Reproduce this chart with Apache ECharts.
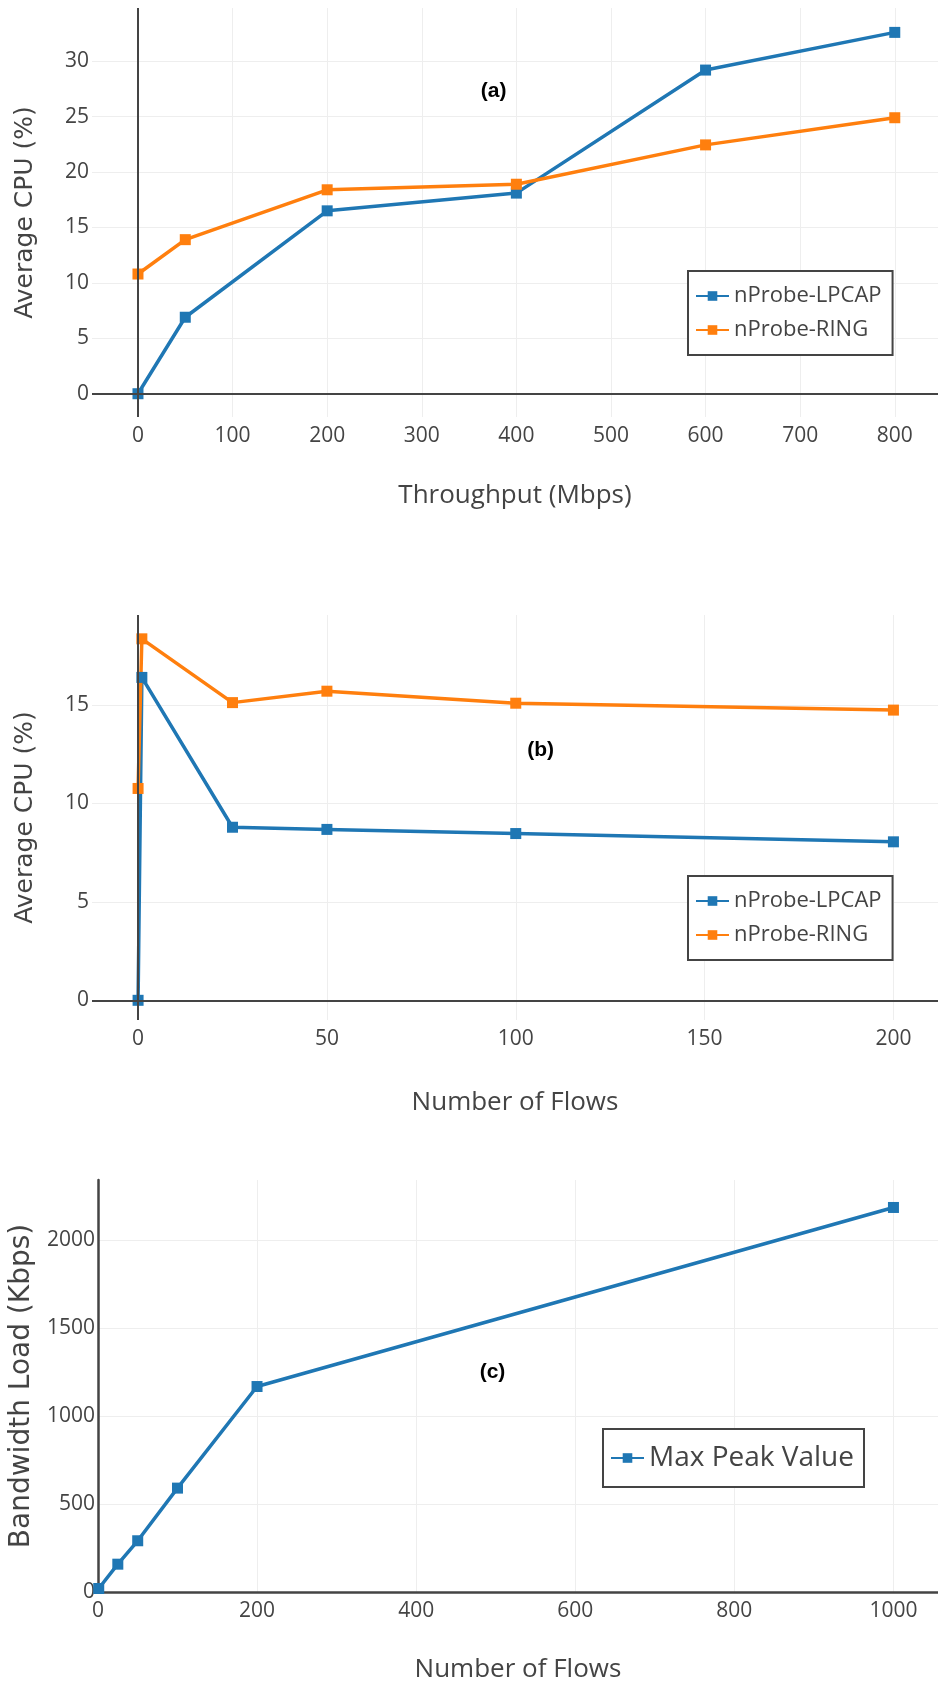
<!DOCTYPE html>
<html>
<head>
<meta charset="utf-8">
<title>nProbe CPU and bandwidth</title>
<script src="https://cdn.jsdelivr.net/npm/echarts@6/dist/echarts.min.js"></script>
<style>
  html, body { margin: 0; padding: 0; background: #fff; }
  #chart { width: 938px; height: 1686px; }
</style>
</head>
<body>
<div id="chart"></div>
<script>
// (a) cpu vs throughput
var throughput = [0, 50, 200, 400, 600, 800];
var cpuLpcapA = [0, 6.9, 16.5, 18.1, 29.2, 32.6];
var cpuRingA = [10.8, 13.9, 18.4, 18.9, 22.45, 24.9];

// (b) cpu vs number of flows
var flowsB = [0, 1, 25, 50, 100, 200];
var cpuLpcapB = [0, 16.4, 8.79, 8.68, 8.47, 8.05];
var cpuRingB = [10.76, 18.36, 15.12, 15.7, 15.09, 14.74];

// (c) bandwidth vs number of flows
var flowsC = [1, 25, 50, 100, 200, 1000];
var peakC = [20, 158, 291, 590, 1167, 2184];

var BLUE = '#1f77b4';
var ORANGE = '#ff7f0e';
var TXT = '#444';

function pairs(xs, ys) {
  return xs.map(function (x, i) { return [x, ys[i]]; });
}

// only show labels on multiples of the step (extent ticks get hidden)
function stepLabel(step) {
  return function (v) {
    var r = Math.abs(v / step - Math.round(v / step));
    return r < 1e-6 ? String(Math.round(v)) : '';
  };
}

// min/maxInterval pin the step but keep ticks on its multiples
function xAxisOf(idx, min, max, step, name, gap, withLine) {
  return {
    type: 'value', gridIndex: idx, min: min, max: max,
    minInterval: step, maxInterval: step,
    name: name, nameLocation: 'middle', nameGap: gap,
    nameTextStyle: { color: TXT, fontSize: 26, fontFamily: 'Open Sans' },
    axisLine: { show: withLine, onZero: false, lineStyle: { color: TXT, width: 2.5 } },
    axisTick: { show: false },
    axisLabel: { color: TXT, fontSize: 21, fontFamily: 'Open Sans', margin: 9,
      showMinLabel: withLine, showMaxLabel: false, formatter: stepLabel(step) },
    splitLine: { show: true, showMinLine: false, showMaxLine: false,
      lineStyle: { color: '#eeeeee', width: 1 } }
  };
}

function yAxisOf(idx, min, max, step, name, gap, size, withLine) {
  return {
    type: 'value', gridIndex: idx, min: min, max: max,
    minInterval: step, maxInterval: step,
    name: name, nameLocation: 'middle', nameGap: gap,
    nameTextStyle: { color: TXT, fontSize: size, fontFamily: 'DejaVu Sans' },
    axisLine: { show: withLine, onZero: false, lineStyle: { color: TXT, width: 2.5 } },
    axisTick: { show: false },
    axisLabel: { color: TXT, fontSize: 21, fontFamily: 'Open Sans', margin: 3,
      showMinLabel: withLine, showMaxLabel: false, formatter: stepLabel(step) },
    splitLine: { show: true, showMinLine: false, showMaxLine: false,
      lineStyle: { color: '#eeeeee', width: 1 } }
  };
}

function lineSeries(name, color, idx, data) {
  return {
    name: name, type: 'line', xAxisIndex: idx, yAxisIndex: idx,
    data: data, symbol: 'rect', symbolSize: 11, z: 3,
    lineStyle: { color: color, width: 3.5 },
    itemStyle: { color: color },
    emphasis: { disabled: true }
  };
}

// dark zero lines at x=0 and y=0
function zeroLines(idx) {
  return {
    type: 'line', xAxisIndex: idx, yAxisIndex: idx, data: [], z: 1, silent: true,
    markLine: {
      silent: true, symbol: ['none', 'none'], animation: false,
      label: { show: false },
      lineStyle: { color: TXT, width: 2, type: 'solid' },
      data: [{ xAxis: 0 }, { yAxis: 0 }]
    }
  };
}

// panel tag like (a), placed in data coords
function tag(idx, text, coord) {
  return {
    type: 'line', xAxisIndex: idx, yAxisIndex: idx, data: [], z: 4, silent: true,
    markPoint: {
      symbol: 'rect', symbolSize: 1, animation: false,
      itemStyle: { color: 'rgba(0,0,0,0)' },
      label: { show: true, formatter: text, color: '#000', fontSize: 21,
        fontWeight: 'bold', fontFamily: 'Liberation Sans' },
      data: [{ coord: coord }]
    }
  };
}

function legendOf(left, top, names, size, pad) {
  return {
    left: left, top: top, orient: 'vertical', data: names, selectedMode: false,
    padding: pad, itemGap: 12, itemWidth: 33, itemHeight: 12,
    borderColor: TXT, borderWidth: 2, backgroundColor: '#fff',
    textStyle: { color: TXT, fontSize: size, lineHeight: size, fontFamily: 'Open Sans' }
  };
}

var chart = echarts.init(document.getElementById('chart'));
chart.setOption({
  backgroundColor: '#fff',
  animation: false,
  grid: [
    { left: 92, right: 0, top: 8, height: 409 },
    { left: 92, right: 0, top: 615, height: 405 },
    { left: 91, right: 0, top: 1180, height: 412 }
  ],
  xAxis: [
    xAxisOf(0, -48.6, 845.7, 100, 'Throughput (Mbps)', 66, false),
    xAxisOf(1, -12.2, 211.8, 50, 'Number of Flows', 70, false),
    xAxisOf(2, 0, 1056, 200, 'Number of Flows', 65, true)
  ],
  yAxis: [
    yAxisOf(0, -2.1, 34.8, 5, 'Average CPU (%)', 54, 25, false),
    yAxisOf(1, -1.0, 19.57, 5, 'Average CPU (%)', 54, 25, false),
    yAxisOf(2, 0, 2340, 500, 'Bandwidth Load (Kbps)', 52, 28, true)
  ],
  legend: [
    legendOf(688, 271, ['nProbe-LPCAP', 'nProbe-RING'], 22, [14, 11, 14, 7]),
    legendOf(688, 876, ['nProbe-LPCAP', 'nProbe-RING'], 22, [14, 11, 14, 7]),
    legendOf(603, 1429, ['Max Peak Value'], 28, [15, 10, 15, 7])
  ],
  series: [
    zeroLines(0),
    zeroLines(1),
    lineSeries('nProbe-LPCAP', BLUE, 0, pairs(throughput, cpuLpcapA)),
    lineSeries('nProbe-RING', ORANGE, 0, pairs(throughput, cpuRingA)),
    lineSeries('nProbe-LPCAP', BLUE, 1, pairs(flowsB, cpuLpcapB)),
    lineSeries('nProbe-RING', ORANGE, 1, pairs(flowsB, cpuRingB)),
    lineSeries('Max Peak Value', BLUE, 2, pairs(flowsC, peakC)),
    tag(0, '(a)', [376, 27.3]),
    tag(1, '(b)', [106.6, 12.7]),
    tag(2, '(c)', [496, 1250])
  ]
});
</script>
</body>
</html>
